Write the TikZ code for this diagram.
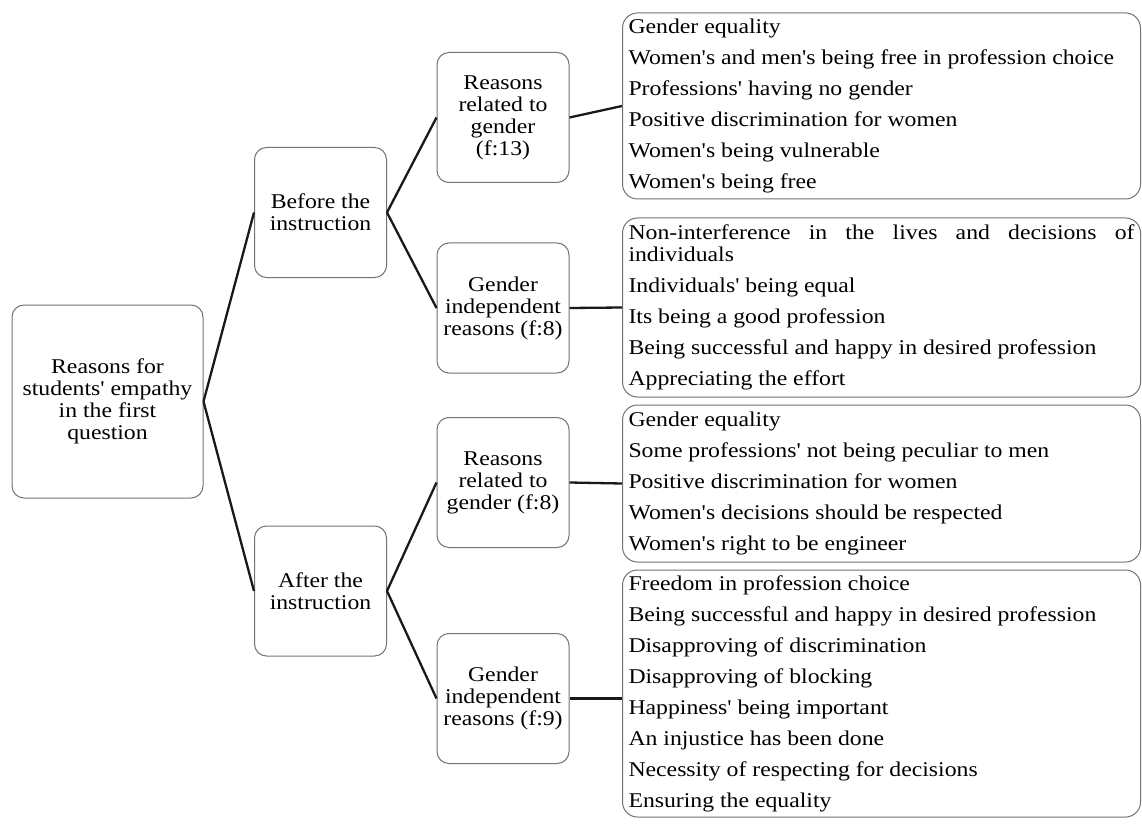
\documentclass[tikz,border=0pt]{standalone}
\usepackage{fontspec}
\setmainfont{Liberation Serif}[FakeStretch=1.13,Ligatures=TeXOff]
\tikzset{
  boxtxt/.style={font=\fontsize{21}{22}\selectfont},
  rbox/.style={draw=black!55,line width=1pt,rounded corners=12pt,
    minimum width=132pt,minimum height=130pt,align=center,inner sep=3pt,boxtxt},
  rootbox/.style={rbox,minimum width=191pt,minimum height=193pt},
  listbox/.style={draw=black!55,line width=1pt,rounded corners=15pt,anchor=west,
    minimum width=518pt,text width=506pt,inner xsep=6pt,inner ysep=2pt,
    align=justify,boxtxt},
  conn/.style={line width=2.3pt,black!90},
}
\begin{document}
\begin{tikzpicture}[x=1pt,y=-1pt]
  \useasboundingbox (0,0) rectangle (1142,826);
  \node[rootbox] (root) at (107.5,401.5) {Reasons for\\students' empathy\\in the first\\question};
  \node[rbox] (before) at (320.5,212.5) {Before the\\instruction};
  \node[rbox] (after) at (320.5,591) {After the\\instruction};
  \node[rbox] (gen1) at (503,117.5) {Reasons\\related to\\gender\\(f:13)};
  \node[rbox] (ind1) at (503,308) {Gender\\independent\\reasons (f:8)};
  \node[rbox] (gen2) at (503,482.5) {Reasons\\related to\\gender (f:8)};
  \node[rbox] (ind2) at (503,698.5) {Gender\\independent\\reasons (f:9)};
  \node[listbox,minimum height=186pt] (list1) at (622,106) {Gender equality\\[9pt]
    Women's and men's being free in profession choice\\[9pt]
    Professions' having no gender\\[9pt]
    Positive discrimination for women\\[9pt]
    Women's being vulnerable\\[9pt]
    Women's being free};
  \node[listbox,minimum height=179pt] (list2) at (622,307.5) {Non-interference in the lives and decisions of\linebreak individuals\\[9pt]
    Individuals' being equal\\[9pt]
    Its being a good profession\\[9pt]
    Being successful and happy in desired profession\\[9pt]
    Appreciating the effort};
  \node[listbox,minimum height=157pt] (list3) at (622,483.5) {Gender equality\\[9pt]
    Some professions' not being peculiar to men\\[9pt]
    Positive discrimination for women\\[9pt]
    Women's decisions should be respected\\[9pt]
    Women's right to be engineer};
  \node[listbox,minimum height=247pt] (list4) at (622,693.5) {Freedom in profession choice\\[9pt]
    Being successful and happy in desired profession\\[9pt]
    Disapproving of discrimination\\[9pt]
    Disapproving of blocking\\[9pt]
    Happiness' being important\\[9pt]
    An injustice has been done\\[9pt]
    Necessity of respecting for decisions\\[9pt]
    Ensuring the equality};
  \draw[conn] (root.east) -- (before.west);
  \draw[conn] (root.east) -- (after.west);
  \draw[conn] (before.east) -- (gen1.west);
  \draw[conn] (before.east) -- (ind1.west);
  \draw[conn] (after.east) -- (gen2.west);
  \draw[conn] (after.east) -- (ind2.west);
  \draw[conn] (gen1.east) -- (list1.west);
  \draw[conn] (ind1.east) -- (list2.west);
  \draw[conn] (gen2.east) -- (list3.west);
  \draw[conn] (ind2.east) -- (ind2.east -| list4.west);
\end{tikzpicture}
\end{document}
